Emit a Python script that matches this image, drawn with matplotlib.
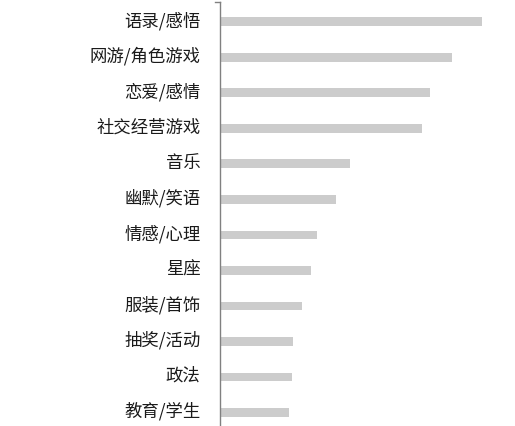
import matplotlib
matplotlib.use("Agg")
import matplotlib.pyplot as plt
from matplotlib.transforms import ScaledTranslation

plt.rcParams['font.family'] = ['Noto Sans CJK SC', 'DejaVu Sans']

categories = ["语录/感悟", "网游/角色游戏", "恋爱/感情", "社交经营游戏", "音乐", "幽默/笑语",
              "情感/心理", "星座", "服装/首饰", "抽奖/活动", "政法", "教育/学生"]
values = [262, 232, 210, 202, 130, 116, 97, 91, 82, 73, 72, 69]

fig = plt.figure(figsize=(5.15, 4.26), dpi=100)
ax = fig.add_axes([220/515, 0, 295/515, 424/426])

ypos = list(range(len(categories)))
ax.barh(ypos, values, height=0.25, color='#cccccc', left=0)
ax.set_ylim(11.38, -0.56)
ax.set_xlim(0, 295)

for s in ['top', 'right', 'bottom']:
    ax.spines[s].set_visible(False)
ax.spines['left'].set_color('#808080')
ax.spines['left'].set_linewidth(1.0)

ax.set_xticks([])
ax.set_yticks(ypos)
ax.set_yticklabels(categories, fontsize=12.5, color='#1a1a1a')
ax.tick_params(axis='y', length=0, pad=14)
offset = ScaledTranslation(0, 3/100, fig.dpi_scale_trans)
for lab in ax.get_yticklabels():
    lab.set_transform(lab.get_transform() + offset)
# top tick mark
ax.plot([-5, 0], [-0.56, -0.56], color='#808080', lw=1.0, clip_on=False)

fig.savefig("out.png", dpi=100)
